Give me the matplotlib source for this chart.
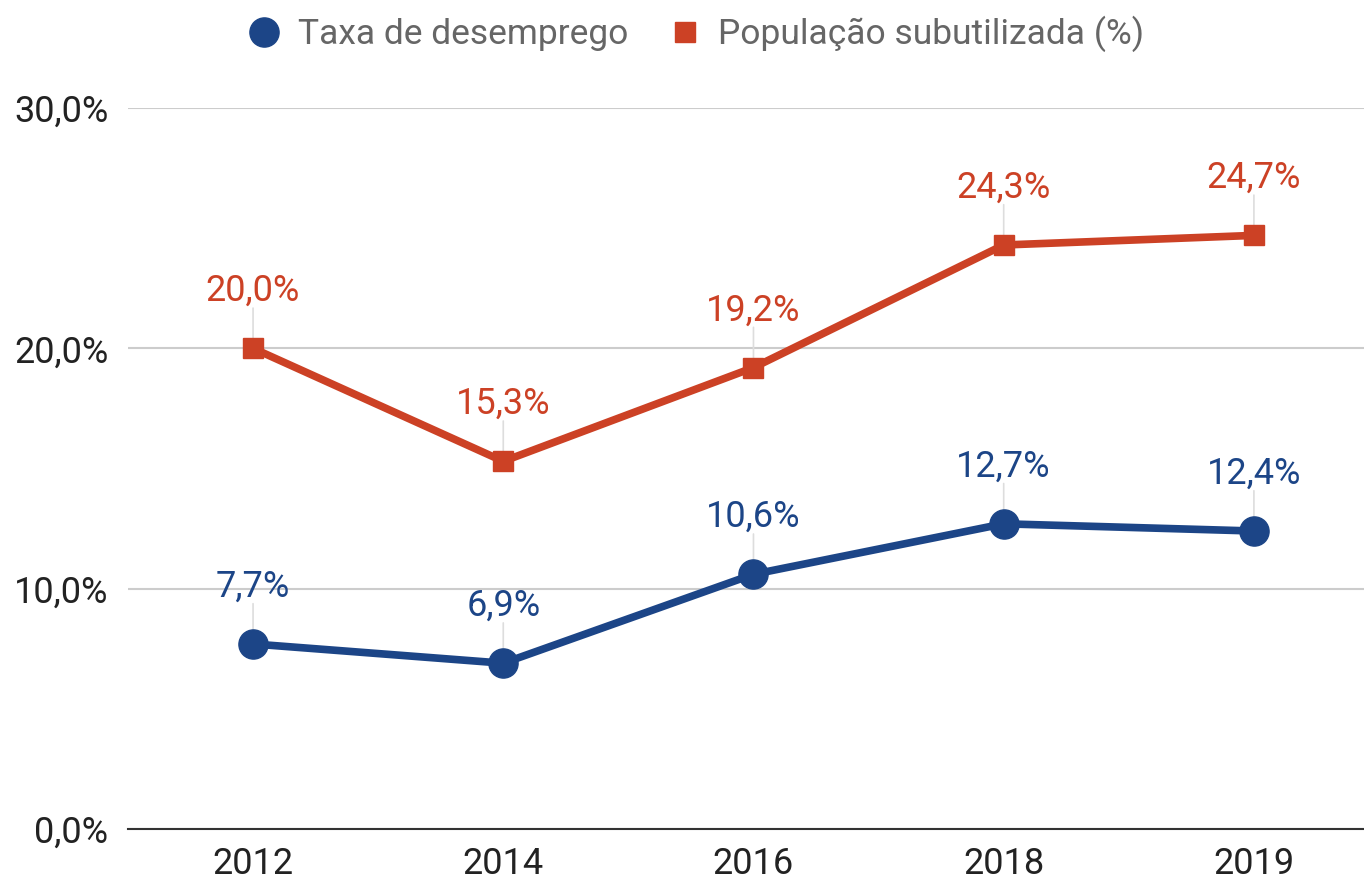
import matplotlib.pyplot as plt
import numpy as np

plt.rcParams['font.family'] = ['Roboto', 'DejaVu Sans']

anos = ['2012', '2014', '2016', '2018', '2019']
desemprego = [7.7, 6.9, 10.6, 12.7, 12.4]
subutilizada = [20.0, 15.3, 19.2, 24.3, 24.7]

azul = '#1c4587'
vermelho = '#cc4125'

fig = plt.figure(figsize=(13.64, 8.86), dpi=100)
ax = fig.add_axes([0.0938, 0.0643, 0.9062, 0.8138])
x = np.arange(len(anos))

ax.plot(x, desemprego, color=azul, lw=5.5, marker='o', markersize=21,
        label='Taxa de desemprego', zorder=3)
ax.plot(x, subutilizada, color=vermelho, lw=5.5, marker='s', markersize=15,
        label='População subutilizada (%)', zorder=3)

# rótulos com linha guia
for serie, cor in [(desemprego, azul), (subutilizada, vermelho)]:
    for xi, v in zip(x, serie):
        ax.annotate('', xy=(xi, v), xytext=(0, 29), textcoords='offset points',
                    arrowprops=dict(arrowstyle='-', color='#dddddd', lw=1.2,
                                    shrinkA=0, shrinkB=0), zorder=2)
        ax.annotate(f'{v:.1f}%'.replace('.', ','), xy=(xi, v), xytext=(0, 34),
                    textcoords='offset points', ha='center', va='baseline',
                    fontsize=26, color=cor)

ax.set_xlim(-0.5, 4.44)
ax.set_ylim(0, 30)
ax.set_yticks([0, 10, 20, 30])
ax.set_yticklabels(['0,0%', '10,0%', '20,0%', '30,0%'])
ax.set_xticks(x)
ax.set_xticklabels(anos)
ax.grid(axis='y', color='#cccccc', lw=1.5)
ax.set_axisbelow(True)
for s in ['top', 'right', 'left']:
    ax.spines[s].set_visible(False)
ax.spines['bottom'].set_color('#333333')
ax.spines['bottom'].set_linewidth(1.5)
ax.tick_params(axis='both', length=0, labelsize=26, colors='#222222')
ax.tick_params(axis='y', pad=14)
ax.tick_params(axis='x', pad=12)

handles, labels = ax.get_legend_handles_labels()
leg = fig.legend(handles, labels, loc='upper center', bbox_to_anchor=(0.511, 1.018),
                 ncol=2, frameon=False, fontsize=25.5, handlelength=0.8,
                 columnspacing=1.2, handletextpad=0.55, markerscale=1.0)
for t in leg.get_texts():
    t.set_color('#666666')
for h in leg.legend_handles:
    h.set_linestyle('none')

fig.savefig('out.png', dpi=100)
